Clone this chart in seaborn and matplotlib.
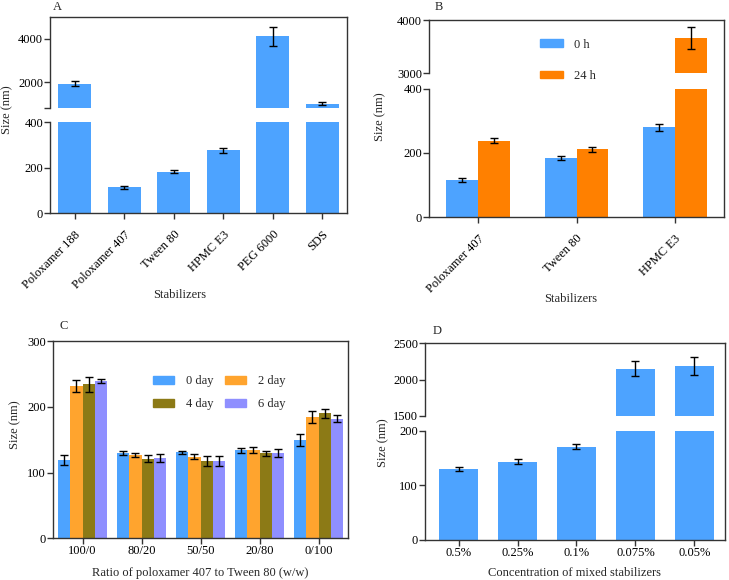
import numpy as np
import pandas as pd
import matplotlib.pyplot as plt
from matplotlib.patches import Patch
import seaborn as sns

# A: size of nanosuspensions with single stabilizers
stab_a = ["Poloxamer 188", "Poloxamer 407", "Tween 80", "HPMC E3", "PEG 6000", "SDS"]
size_a = [1940, 114, 183, 278, 4110, 1020]
err_a = [110, 6, 8, 11, 430, 60]

# B: 0 h vs 24 h
stab_b = ["Poloxamer 407", "Tween 80", "HPMC E3"]
time_b = ["0 h", "24 h"]
size_b_0h = [116, 184, 280]
err_b_0h = [5.5, 7, 11]
size_b_24h = [238, 211, 3673]
err_b_24h = [7, 7, 210]

# C: ratio of poloxamer 407 to Tween 80, over days
ratio_c = ["100/0", "80/20", "50/50", "20/80", "0/100"]
day_c = ["0 day", "2 day", "4 day", "6 day"]
size_c = {
    "0 day": [119, 130, 131, 134, 150],
    "2 day": [231, 126, 124, 134, 185],
    "4 day": [234, 121, 117, 129, 190],
    "6 day": [239, 122, 118, 130, 182],
}
err_c = {
    "0 day": [8, 3.5, 2.5, 4, 9],
    "2 day": [9, 3, 4, 4.5, 9],
    "4 day": [11, 5, 7.5, 4, 7],
    "6 day": [3, 6.5, 7.5, 6.5, 5],
}

# D: concentration of mixed stabilizers
conc_d = ["0.5%", "0.25%", "0.1%", "0.075%", "0.05%"]
size_d = [130, 143, 171, 2151, 2188]
err_d = [3.7, 4.3, 5, 103, 126]

BLUE = "#4DA3FF"
ORANGE = "#FF8000"
pal_b = {"0 h": BLUE, "24 h": ORANGE}
pal_c = {"0 day": "#4DA3FF", "2 day": "#FFA42E", "4 day": "#8C7A16", "6 day": "#8F8FFF"}

sns.set_theme(style="ticks")
plt.rcParams['font.family'] = ['Liberation Serif', 'DejaVu Serif']
plt.rcParams['font.size'] = 9
SPINE = "#333333"
FS = 9

W, H = 729, 580
fig = plt.figure(figsize=(W / 100, H / 100), dpi=100)


def pax(x0, y0, x1, y1):
    return fig.add_axes([x0 / W, 1 - y1 / H, (x1 - x0) / W, (y1 - y0) / H])


def bars(ax, df, x, y, hue=None, palette=None, color=None, width=0.66, vals=None, errs=None):
    sns.barplot(data=df, x=x, y=y, hue=hue, palette=palette, color=color, width=width,
                errorbar=None, linewidth=0, saturation=1, legend=False, ax=ax)
    for cont, v, e in zip(ax.containers, vals, errs):
        cx = [b.get_x() + b.get_width() / 2 for b in cont]
        ax.errorbar(cx, v, yerr=e, fmt="none", ecolor="black", elinewidth=1,
                    capsize=3.2, capthick=1)
    ax.set_xlabel("")
    ax.set_ylabel("")


def style(ax, top=False, bottom=True):
    for s in ["left", "top", "bottom", "right"]:
        ax.spines[s].set_color(SPINE)
        ax.spines[s].set_linewidth(1)
    ax.spines["right"].set_visible(False)
    ax.spines["top"].set_visible(top)
    ax.spines["bottom"].set_visible(bottom)
    ax.tick_params(direction="out", length=4, width=1, colors=SPINE,
                   labelcolor="black", labelsize=FS, pad=1)
    if not bottom:
        ax.tick_params(axis="x", bottom=False, labelbottom=False)
    ax.patch.set_alpha(0)


def frame(x0, y0, x1, y1):
    bg = pax(x0, y0, x1, y1)
    for s in ["left", "top", "bottom"]:
        bg.spines[s].set_visible(False)
    bg.spines["right"].set_color(SPINE)
    bg.spines["right"].set_linewidth(1)
    bg.set_xticks([])
    bg.set_yticks([])
    bg.patch.set_alpha(0)


def rotate(ax):
    ax.tick_params(axis="x", pad=7)
    for lab in ax.get_xticklabels():
        lab.set_rotation(45)
        lab.set_ha("right")
        lab.set_rotation_mode("anchor")


def broken(x0, x1, yt, yb_up, yt_lo, yb, lim_up, lim_lo, ticks_up, labels_up, ticks_lo, draw):
    up = pax(x0, yt, x1, yb_up)
    lo = pax(x0, yt_lo, x1, yb)
    for ax in (up, lo):
        draw(ax)
    up.set_ylim(*lim_up)
    lo.set_ylim(*lim_lo)
    up.set_yticks(ticks_up)
    up.set_yticklabels(labels_up)
    lo.set_yticks(ticks_lo)
    style(up, top=True, bottom=False)
    style(lo)
    frame(x0, yt, x1, yb)
    return up, lo


# ---- Panel A
df_a = pd.DataFrame({"Stabilizer": stab_a, "Size": size_a})
upA, loA = broken(50, 347, 17, 107.5, 122.3, 213.3, (850, 5000), (0, 400),
                  [850, 2000, 4000], ["", "2000", "4000"], [0, 200, 400],
                  lambda ax: bars(ax, df_a, "Stabilizer", "Size", color=BLUE, width=0.66,
                                  vals=[size_a], errs=[err_a]))
upA.set_xlim(-0.5, 5.5)
loA.set_xlim(-0.5, 5.5)
rotate(loA)

# ---- Panel B
df_b = pd.DataFrame({
    "Stabilizer": stab_b * 2,
    "Time": [time_b[0]] * 3 + [time_b[1]] * 3,
    "Size": size_b_0h + size_b_24h,
})
upB, loB = broken(429, 724, 20.3, 73.5, 88.5, 217.3, (3000, 4000), (0, 400),
                  [3000, 4000], ["3000", "4000"], [0, 200, 400],
                  lambda ax: bars(ax, df_b, "Stabilizer", "Size", hue="Time", palette=pal_b,
                                  width=0.65, vals=[size_b_0h, size_b_24h],
                                  errs=[err_b_0h, err_b_24h]))
upB.set_xlim(-0.5, 2.5)
loB.set_xlim(-0.5, 2.5)
rotate(loB)
fig.legend([Patch(color=pal_b[t]) for t in time_b], time_b, loc="upper left",
           bbox_to_anchor=(540 / W, 1 - 38.5 / H), frameon=False, fontsize=FS,
           borderpad=0, borderaxespad=0, handlelength=1.8, handleheight=0.6,
           handletextpad=0.9, labelspacing=1.55)

# ---- Panel C
df_c = pd.DataFrame({
    "Ratio": ratio_c * len(day_c),
    "Day": [d for d in day_c for _ in ratio_c],
    "Size": [v for d in day_c for v in size_c[d]],
})
axC = pax(53, 341, 348, 538.3)
bars(axC, df_c, "Ratio", "Size", hue="Day", palette=pal_c, width=0.82,
     vals=[size_c[d] for d in day_c], errs=[err_c[d] for d in day_c])
axC.set_ylim(0, 300)
axC.set_yticks([0, 100, 200, 300])
axC.set_xlim(-0.5, 4.5)
style(axC, top=True)
frame(53, 341, 348, 538.3)
leg_order = ["0 day", "4 day", "2 day", "6 day"]  # row-wise: 0/2 then 4/6
fig.legend([Patch(color=pal_c[d]) for d in leg_order], leg_order, loc="upper left", ncol=2,
           bbox_to_anchor=(153 / W, 1 - 375 / H), frameon=False, fontsize=FS,
           borderpad=0, borderaxespad=0, handlelength=1.7, handleheight=0.6,
           handletextpad=0.95, labelspacing=0.9, columnspacing=0.9)

# ---- Panel D
df_d = pd.DataFrame({"Conc": conc_d, "Size": size_d})
upD, loD = broken(425, 725, 343.3, 416, 430.7, 539.7, (1500, 2500), (0, 200),
                  [1500, 2000, 2500], ["1500", "2000", "2500"], [0, 100, 200],
                  lambda ax: bars(ax, df_d, "Conc", "Size", color=BLUE, width=0.67,
                                  vals=[size_d], errs=[err_d]))
upD.set_xlim(-0.57, 4.52)
loD.set_xlim(-0.57, 4.52)

# ---- texts
for lab, x, y in [("A", 53, 7), ("B", 435, 7), ("C", 59, 326), ("D", 433, 331)]:
    fig.text(x / W, 1 - y / H, lab, fontsize=FS, ha="left", va="center")
for x, y in [(7.5, 110), (380, 117), (15, 425), (383, 443)]:
    fig.text(x / W, 1 - y / H, "Size (nm)", fontsize=FS, rotation=90, ha="center", va="center")
for txt, x, y in [("Stabilizers", 180, 295), ("Stabilizers", 571, 299),
                  ("Ratio of poloxamer 407 to Tween 80 (w/w)", 200, 573),
                  ("Concentration of mixed stabilizers", 575, 573)]:
    fig.text(x / W, 1 - y / H, txt, fontsize=FS, ha="center", va="center")

fig.savefig("out.png", dpi=100)
